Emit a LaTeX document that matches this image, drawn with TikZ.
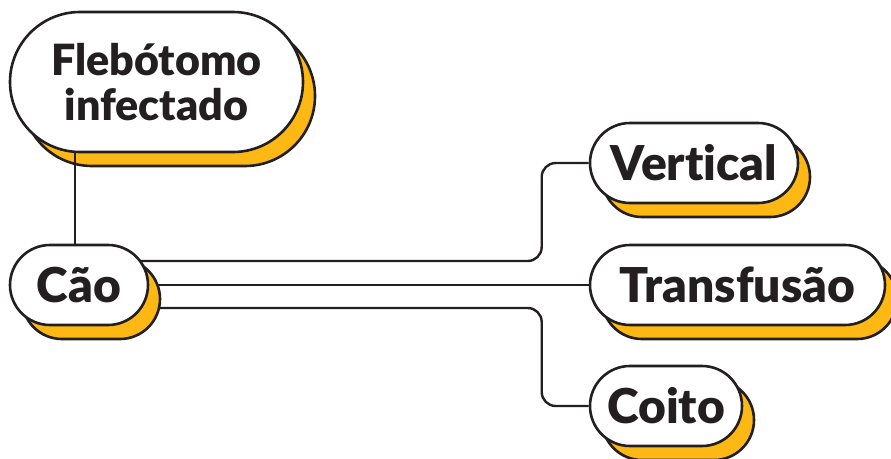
\documentclass[tikz,border=0pt]{standalone}
\usepackage{fontspec}
\newfontfamily\pillfont{Lato Black}[Ligatures=NoCommon]
\usepackage{tikz}
\usetikzlibrary{shapes.misc,shadows,backgrounds,calc}
\definecolor{ink}{HTML}{231F20}
\definecolor{pillyellow}{HTML}{FDB813}

\begin{document}
\begin{tikzpicture}[x=1pt, y=1pt,
    pill/.style={draw=ink, line width=2.6pt, fill=white, rounded rectangle,
        minimum height=80pt, inner sep=0pt, align=center, text=ink,
        font=\pillfont\fontsize{48}{52}\selectfont,
        copy shadow={shadow xshift=12pt, shadow yshift=-14pt, fill=pillyellow, draw=ink, line width=2.6pt}},
    link/.style={draw=ink, line width=2.4pt, rounded corners=14pt}]

    \useasboundingbox (0,0) rectangle (891,-458);

    % Vector and host
    \node[pill, rectangle, rounded corners=70pt, minimum width=293pt, minimum height=140pt,
        font=\pillfont\fontsize{43}{45}\selectfont] (fleb) at (156.5,-82) {Flebótomo\\infectado};
    \node[pill, minimum width=138pt] (cao) at (79,-285) {Cão};

    % Other routes of transmission
    \node[pill, minimum width=208pt] (vert) at (694,-163) {Vertical};
    \node[pill, minimum width=295pt] (trans) at (737.5,-285) {Transfusão};
    \node[pill, minimum width=152pt] (coito) at (666,-406) {Coito};

    \draw[link] ([xshift=-4pt]cao.north |- fleb.south) -- ([xshift=-4pt]cao.north);

    % Branches leave from behind the dog box
    \begin{scope}[on background layer]
        \draw[link] ([yshift=24pt]cao.center) -| ($(vert.west)+(-47,0)$) -- (vert.west);
        \draw[link] (cao.center) -- (trans.west);
        \draw[link] ([yshift=-23pt]cao.center) -| ($(coito.west)+(-47,0)$) -- (coito.west);
    \end{scope}

\end{tikzpicture}
\end{document}
